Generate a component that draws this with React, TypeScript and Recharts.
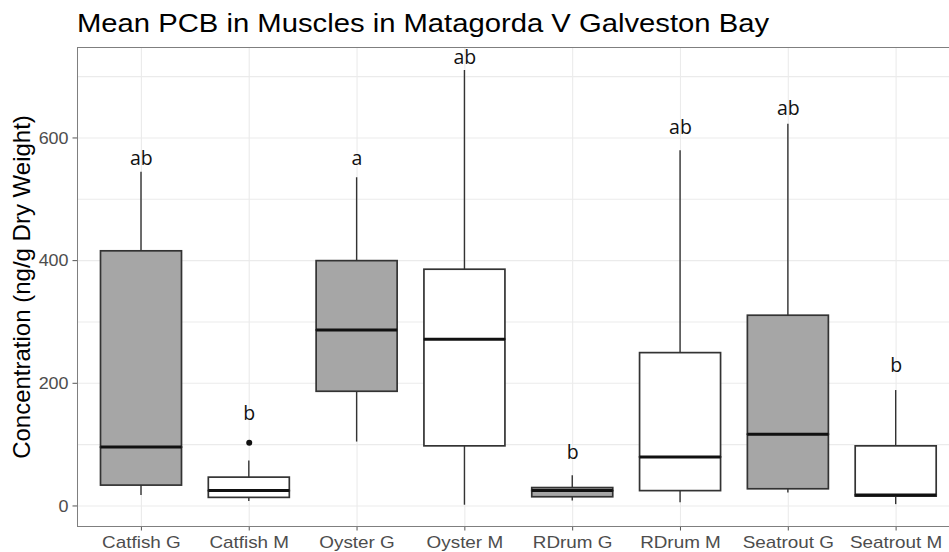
import {
  ComposedChart,
  Bar,
  Scatter,
  XAxis,
  YAxis,
  CartesianGrid,
} from 'recharts';

// five-number summaries (ng/g dry weight)
const categories = ['Catfish G', 'Catfish M', 'Oyster G', 'Oyster M', 'RDrum G', 'RDrum M', 'Seatrout G', 'Seatrout M'];
const whiskerLow = [18, 8, 105, 2, 9, 6, 22, 3];
const q1 = [34, 14, 187, 98, 15, 25, 28, 16];
const median = [96, 25, 287, 272, 25, 80, 117, 18];
const q3 = [416, 47, 400, 386, 30, 250, 311, 98];
const whiskerHigh = [545, 74, 536, 711, 50, 580, 623, 189];
const outliers = [null, 103, null, null, null, null, null, null];

// compact letter display above each box
const letters = ['ab', 'b', 'a', 'ab', 'b', 'ab', 'ab', 'b'];
const letterY = [556, 140, 556, 720, 77, 606, 637, 219];

const yTicks = [0, 200, 400, 600];
const yGrid = [0, 100, 200, 300, 400, 500, 600, 700];

const data = categories.map((name, i) => ({
  name,
  base: whiskerLow[i],
  lowWhisker: q1[i] - whiskerLow[i],
  lowBox: median[i] - q1[i],
  highBox: q3[i] - median[i],
  highWhisker: whiskerHigh[i] - q3[i],
  outlier: outliers[i],
  letter: letters[i],
  letterY: letterY[i],
}));

const GREY = '#a6a6a6';
const EDGE = '#333333';
const fillFor = (name: string) => (name.endsWith('G') ? GREY : '#ffffff');

const Whisker = (props: any) => {
  const { x, y, width, height } = props;
  const cx = x + width / 2;
  return <line x1={cx} x2={cx} y1={y} y2={y + height} stroke={EDGE} strokeWidth={1.4} />;
};

const LowBox = (props: any) => {
  const { x, y, width, height, payload } = props;
  return (
    <rect x={x} y={y} width={width} height={height} fill={fillFor(payload.name)} stroke={EDGE} strokeWidth={1.7} />
  );
};

const HighBox = (props: any) => {
  const { x, y, width, height, payload } = props;
  return (
    <g>
      <rect x={x} y={y} width={width} height={height} fill={fillFor(payload.name)} stroke={EDGE} strokeWidth={1.7} />
      <line x1={x} x2={x + width} y1={y + height} y2={y + height} stroke="#111" strokeWidth={3} />
    </g>
  );
};

const Nothing = () => <g />;

const OutlierDot = (props: any) => {
  const { cx, cy, payload } = props;
  if (payload == null || payload.outlier == null || !Number.isFinite(cy)) return <g />;
  return <circle cx={cx} cy={cy} r={3} fill="#111" />;
};

const Letter = (props: any) => {
  const { cx, cy, payload } = props;
  if (!Number.isFinite(cy)) return <g />;
  return (
    <text x={cx} y={cy} textAnchor="middle" fontSize={19.5} fontFamily="'Open Sans', sans-serif" fill="#111">
      {payload.letter}
    </text>
  );
};

const XTick = (props: any) => {
  const { x, y, payload } = props;
  return (
    <text
      transform={`translate(${x},${y + 15}) scale(1.18,1)`}
      textAnchor="middle"
      fontSize={16}
      fontFamily="'Liberation Sans', Arial, sans-serif"
      fill="#4d4d4d"
    >
      {payload.value}
    </text>
  );
};

const YTick = (props: any) => {
  const { x, y, payload } = props;
  return (
    <text
      transform={`translate(${x},${y}) scale(1.12,1)`}
      dy="0.36em"
      textAnchor="end"
      fontSize={16}
      fontFamily="'Liberation Sans', Arial, sans-serif"
      fill="#4d4d4d"
    >
      {payload.value}
    </text>
  );
};

export default function App() {
  return (
    <div style={{ position: 'absolute', left: 0, top: 0, width: 949, height: 552, overflow: 'hidden', background: '#fff' }}>
      <ComposedChart width={961} height={552} data={data} margin={{ top: 47.5, right: 0, bottom: 0, left: 0 }}>
        <CartesianGrid stroke="#ebebeb" strokeWidth={1.1} horizontalValues={yGrid} />
        <XAxis
          dataKey="name"
          type="category"
          interval={0}
          padding={{ left: 10, right: 11 }}
          axisLine={false}
          tickSize={4}
          tickLine={{ stroke: '#555' }}
          tick={<XTick />}
          height={25.5}
        />
        <YAxis
          type="number"
          domain={[-33.5, 747.5]}
          ticks={yTicks}
          allowDataOverflow
          width={77.5}
          axisLine={false}
          tickSize={5}
          tickMargin={4}
          tickLine={{ stroke: '#555' }}
          tick={<YTick />}
        />
        <Bar dataKey="base" stackId="box" barSize={81} shape={<Nothing />} isAnimationActive={false} />
        <Bar dataKey="lowWhisker" stackId="box" barSize={81} shape={<Whisker />} isAnimationActive={false} />
        <Bar dataKey="lowBox" stackId="box" barSize={81} shape={<LowBox />} isAnimationActive={false} />
        <Bar dataKey="highBox" stackId="box" barSize={81} shape={<HighBox />} isAnimationActive={false} />
        <Bar dataKey="highWhisker" stackId="box" barSize={81} shape={<Whisker />} isAnimationActive={false} />
        <Scatter dataKey="outlier" shape={<OutlierDot />} isAnimationActive={false} />
        <Scatter dataKey="letterY" shape={<Letter />} isAnimationActive={false} />
      </ComposedChart>
      <svg width={949} height={552} style={{ position: 'absolute', left: 0, top: 0, pointerEvents: 'none' }}>
        <rect x={77.5} y={47.5} width={883.5} height={479} fill="none" stroke="#7f7f7f" strokeWidth={1} />
        <text
          transform="translate(77,32) scale(1.17,1)"
          fontSize={25}
          fontFamily="'Liberation Sans', Arial, sans-serif"
          fill="#000"
        >
          Mean PCB in Muscles in Matagorda V Galveston Bay
        </text>
        <text
          transform="translate(30,287) rotate(-90)"
          textAnchor="middle"
          fontSize={24}
          fontFamily="'Liberation Sans', Arial, sans-serif"
          fill="#000"
        >
          Concentration (ng/g Dry Weight)
        </text>
      </svg>
    </div>
  );
}
